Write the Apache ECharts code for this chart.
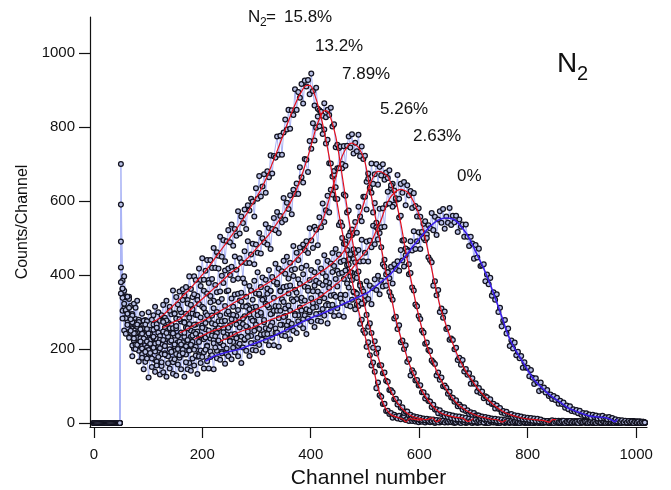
<!DOCTYPE html>
<html>
<head>
<meta charset="utf-8">
<script src="https://cdn.jsdelivr.net/npm/echarts@6/dist/echarts.min.js"></script>
<style>html,body{margin:0;padding:0;background:#fff}#c{width:671px;height:490px}</style>
</head>
<body>
<div id="c"></div>
<script>
// ---- channel layout: channels 0..48 below threshold, then every 3rd channel from 50 ----
const preChannels = [0,2,4,6,8,10,12,14,16,18,20,22,24,26,28,30,32,34,36,38,40,42,44,46,48];
const preCounts   = [0,0,0,0,0,0,0,0,0,0,0,0,0,0,0,0,0,0,0,0,0,0,0,0,0];
const firstChannel = 50, channelStep = 3;

const xTicks = [0,200,400,600,800,1000];
const yTicks = [0,200,400,600,800,1000];
const labels = ['15.8%','13.2%','7.89%','5.26%','2.63%','0%'];

// ---- counts per channel, one row = 20 samples = 60 channels ----
const counts158 = [
700,361,396,342,300,341,316,260,322,281,330,262,275,295,232,278,250,299,241,279,
266,314,257,299,240,291,319,284,330,271,314,294,358,296,340,320,355,299,361,344,
367,332,396,362,340,396,386,343,417,386,445,387,411,440,386,440,419,473,419,461,
452,503,449,494,437,491,521,488,536,479,524,506,572,512,558,540,577,524,588,574,
606,598,558,634,606,667,612,639,672,622,680,664,723,674,721,717,774,725,776,725,
785,820,793,846,795,845,832,902,846,894,879,916,863,925,909,927,888,944,897,858,
906,849,845,841,781,793,755,765,702,701,666,671,606,605,535,542,532,484,490,426,
428,396,406,353,353,320,316,268,279,250,243,206,218,183,155,163,138,94,109,75,
71,51,52,32,33,24,27,14,22,17,12,19,10,15,18,8,11,5,11,5,
9,4,7,2,6,3,8,1,5,4,2,7,3,0,5,6,1,4,3,2,
5,1,4,6,2,0,3,5,1,4,2,6,0,3,4,1,5,2,3,0,
4,2,6,1,3,0,5,2,4,1,3,6,0,2,5,3,1,4,2,0,
3,5,1,2,4,0,6,2,3,1,5,0,2,4,1,3,5,0,2,3,
1,4,2,0,5,3,1,2,4,0,3,6,1,2,0,4,2,3,1,5,
0,2,4,1,3,5,0,2,1,4,3,0,2,5,1,3,0,4,2,1,
3,0,5,2,1,4,0,3,2,1,4,2,0,3,1,5,2,0,3,1,
2,0,1];
const counts132 = [
590,384,309,340,297,335,265,294,272,311,245,279,211,255,276,235,275,212,252,229,
291,226,267,244,276,217,276,257,277,240,303,266,242,295,282,236,307,274,332,273,
295,323,267,319,296,348,292,332,321,370,314,357,298,350,378,343,389,330,373,353,
417,355,398,378,412,356,417,400,422,386,450,414,390,445,434,390,464,432,491,432,
455,484,429,482,460,513,458,499,488,537,482,527,470,524,554,521,570,513,559,542,
608,549,595,578,615,564,630,619,647,619,691,664,650,713,711,678,762,741,810,763,
798,828,802,841,830,864,826,846,832,852,801,807,745,752,743,689,688,617,614,569,
574,515,508,469,459,404,409,376,363,322,330,292,260,269,243,203,221,188,201,156,
156,134,136,114,111,89,88,83,64,65,50,56,41,42,27,31,31,20,22,14,
18,12,16,10,14,8,12,7,11,6,10,5,9,3,8,2,7,4,6,1,
5,3,7,2,4,6,1,5,3,0,4,2,6,1,3,5,0,2,4,3,
1,5,2,4,0,3,6,1,2,4,5,0,3,1,2,6,0,4,3,2,
5,1,3,0,4,2,1,6,3,0,2,4,1,5,0,3,2,1,4,0,
2,3,5,1,0,4,2,3,1,5,0,2,4,1,3,0,5,2,1,3,
4,0,2,1,5,3,0,2,4,1,0,3,2,5,1,0,4,2,3,1,
0,2,4,1,3,0,5,2,1,3,4,0,2,1,3,5,0,2,1,4,
1,3,0];
const counts789 = [
490,303,357,303,341,267,275,290,222,263,230,273,209,241,223,266,204,242,179,227,
252,214,257,195,235,212,273,208,248,225,256,197,256,236,256,218,280,243,218,271,
258,212,284,250,307,246,266,292,235,285,260,310,253,291,279,326,269,310,250,300,
327,290,335,274,316,295,358,294,336,314,347,289,349,331,352,315,378,341,317,370,
358,312,384,350,407,346,367,393,336,387,363,413,356,394,382,430,374,417,358,410,
438,403,449,390,433,413,478,416,460,440,474,419,482,467,491,459,526,493,473,530,
522,480,556,529,593,543,575,614,569,630,617,681,637,688,688,747,700,748,695,749,
774,744,780,728,757,734,779,721,747,713,722,652,674,633,622,569,594,541,496,513,
475,429,441,401,408,354,342,333,282,287,254,264,218,223,200,210,165,172,128,142,
135,115,116,101,102,83,83,66,72,59,58,43,49,36,37,26,34,24,27,18,
24,16,22,13,20,11,18,10,17,9,15,8,14,6,12,5,11,4,9,3,
6,2,5,1,7,3,0,4,6,2,3,5,1,0,4,2,6,3,1,5,
2,4,0,3,1,5,2,6,0,3,4,1,2,5,0,3,1,4,2,0,
3,1,5,2,0,4,3,1,2,6,0,3,4,1,5,2,0,3,1,4,
2,5,0,1,3,4,2,0,5,1,3,2,0,4,1,3,5,0,2,1,
4,0,2,3,1,5,0,2,4,1,3,0,2,5,1,0,3,4,2,1,
0,2,1];
const counts526 = [
420,363,283,305,276,311,241,272,201,242,260,216,253,186,222,196,254,187,225,200,
230,170,227,206,225,186,247,208,182,233,219,172,242,207,262,200,219,244,185,233,
207,256,197,233,219,265,206,247,187,237,263,226,270,209,250,228,290,225,266,243,
275,216,275,256,276,239,301,264,239,292,279,233,305,271,328,267,288,314,257,307,
283,333,276,314,302,349,292,333,272,322,349,312,357,296,338,316,379,315,356,334,
367,309,369,350,371,334,397,360,335,388,376,330,402,368,425,365,386,413,356,407,
384,435,378,417,405,453,396,438,379,431,459,424,470,411,455,435,500,439,483,467,
506,456,523,513,543,514,584,558,545,611,611,577,660,636,701,646,672,700,644,692,
669,699,657,677,662,683,634,646,590,605,604,555,560,493,494,453,468,402,405,366,
358,320,315,289,281,250,244,214,217,197,194,169,164,159,128,136,117,123,99,101,
95,79,84,69,68,57,61,45,50,44,36,42,32,34,24,29,22,27,20,21,
20,13,17,11,16,10,14,8,12,7,11,5,10,4,9,3,8,4,6,2,
5,1,4,6,2,0,3,5,2,4,1,3,6,0,2,4,1,5,3,0,
2,5,1,3,0,4,2,6,1,3,5,0,2,4,1,3,0,5,2,1,
3,0,4,2,1,5,3,0,2,4,1,0,3,5,2,1,4,0,3,2,
1,4,0,2,5,1,3,0,2,4,1,3,0,2,5,0,1,3,2,4,
0,3,1];
const counts263 = [
380,338,250,283,295,246,280,209,242,212,266,195,229,201,228,165,220,197,214,174,
233,193,166,217,202,154,224,188,243,180,199,223,164,212,186,235,176,212,198,244,
185,224,162,211,236,198,241,179,219,196,257,191,231,207,238,178,236,215,234,195,
256,218,192,245,232,186,257,223,280,219,240,266,208,258,233,282,224,261,247,293,
235,276,215,265,291,254,298,237,278,256,318,253,294,271,303,244,303,283,303,265,
327,289,264,317,304,258,329,295,352,291,312,338,281,331,307,357,299,337,324,371,
313,355,295,346,373,337,382,322,365,344,408,346,389,369,403,346,406,389,412,377,
442,408,386,443,434,392,467,436,495,437,460,490,436,493,475,533,483,529,524,579,
529,580,530,590,625,593,642,584,628,607,670,606,646,622,651,588,642,615,627,581,
621,586,558,580,557,509,538,494,510,448,440,434,371,383,345,359,300,309,284,301,
254,257,225,228,224,199,203,170,176,157,170,139,146,130,134,106,121,106,107,85,
94,81,85,67,72,69,56,64,51,52,39,47,38,40,28,32,25,30,22,23,
24,16,21,14,19,12,17,10,15,9,14,8,13,6,12,5,11,4,9,3,
6,2,5,1,4,7,0,3,5,2,1,4,6,0,3,2,5,1,4,2,
3,0,5,2,1,4,3,0,2,5,1,3,0,4,2,1,5,3,0,2,
4,1,3,0,2,5,1,0,3,4,2,1,5,0,3,2,1,4,0,2,
3,1,0];
const counts0 = [
350,282,322,241,265,230,249,180,228,200,211,166,220,176,145,192,174,123,189,151,
203,138,155,178,131,164,137,185,125,161,147,192,133,172,128,158,183,145,188,125,
164,145,196,141,174,155,182,132,180,162,178,147,198,167,147,193,183,145,204,175,
223,171,188,209,160,201,180,221,172,203,191,229,180,214,162,204,226,195,232,181,
216,197,249,196,230,211,239,191,240,223,240,210,262,230,210,255,244,206,265,237,
286,235,252,274,226,268,249,291,243,275,265,304,256,291,240,282,304,274,311,259,
294,276,328,274,308,290,318,269,318,302,319,289,341,310,291,336,325,287,346,318,
366,315,333,355,307,349,329,371,323,355,344,383,335,371,321,364,388,359,398,348,
385,369,423,371,407,391,422,377,429,416,437,411,467,439,423,471,464,429,491,466,
518,470,491,515,470,516,500,545,500,534,526,567,521,557,508,550,572,541,578,525,
558,541,581,535,560,542,560,516,550,530,536,503,536,503,478,503,485,444,481,447,
471,424,426,429,383,401,375,392,344,353,333,348,300,311,261,276,278,242,255,208,
223,201,217,183,192,175,181,149,164,149,149,126,143,122,105,121,109,86,109,90,
96,82,89,73,77,65,73,62,68,52,60,51,55,41,47,37,45,32,37,30,
35,26,33,22,27,20,26,19,23,14,22,16,20,12,18,12,19,12,15,10,
16,9,13,6,10,4,8,3,7,2,6,1,5,2,4,0,3,1,4,0,
2,0,1];

// ---- fitted curves [channel, counts] ----
const fit158 = [[108,273],[116,278],[128,292],[140,308],[152,325],[164,343],[176,360],[188,380],[200,400],[212,422],[224,446],[236,470],[248,494],[260,518],[272,543],[284,570],[296,600],[308,630],[320,668],[332,712],[344,758],[356,805],[368,850],[380,888],[392,912],[398,912],[404,900],[416,845],[428,765],[440,670],[452,565],[464,470],[476,385],[488,305],[500,235],[512,170],[524,95],[536,45],[548,22],[560,15],[570,10],[576,3],[582,12],[594,9],[606,8]];
const fit132 = [[127,257],[134,262],[146,272],[158,280],[170,295],[182,311],[194,327],[206,343],[218,359],[230,375],[242,391],[254,407],[266,420],[278,437],[290,455],[302,475],[314,494],[326,515],[338,540],[350,566],[362,594],[374,632],[386,680],[398,735],[410,798],[422,840],[428,844],[434,836],[446,775],[458,668],[470,553],[482,448],[494,355],[506,275],[518,207],[530,152],[542,106],[554,68],[566,43],[578,26],[590,16],[602,12],[614,9],[624,14],[632,3],[640,10]];
const fit789 = [[159,244],[170,252],[182,262],[194,271],[206,280],[218,290],[230,300],[242,310],[254,321],[266,331],[278,342],[290,352],[302,362],[314,372],[326,383],[338,395],[350,411],[362,427],[374,445],[386,464],[398,490],[410,516],[422,548],[434,605],[446,664],[458,721],[470,752],[476,756],[488,745],[500,705],[512,610],[524,520],[536,427],[548,342],[560,262],[572,203],[584,151],[596,112],[608,80],[620,54],[632,35],[644,24],[656,19],[668,15],[680,13],[690,4],[700,12]];
const fit526 = [[186,226],[194,232],[206,240],[218,248],[230,254],[242,261],[254,269],[266,278],[278,288],[290,298],[302,308],[314,317],[326,327],[338,337],[350,346],[362,356],[374,365],[386,375],[398,386],[410,399],[422,411],[434,424],[446,440],[458,458],[470,485],[482,528],[494,575],[506,633],[518,672],[524,680],[530,679],[542,666],[554,620],[566,540],[578,440],[590,350],[602,272],[614,210],[626,162],[638,122],[650,91],[662,66],[674,47],[686,34],[698,25],[710,18],[722,14],[734,10],[746,8],[752,2],[760,8]];
const fit263 = [[233,221],[242,226],[254,235],[266,244],[278,251],[290,256],[302,264],[314,272],[326,279],[338,285],[350,291],[362,298],[374,307],[386,317],[398,326],[410,334],[422,346],[434,359],[446,374],[458,388],[470,406],[482,428],[494,450],[506,472],[518,510],[530,550],[542,598],[554,622],[566,631],[578,624],[590,597],[602,553],[614,480],[626,395],[638,318],[650,262],[662,214],[674,172],[686,140],[698,114],[710,89],[722,70],[734,53],[746,39],[758,28],[770,21],[782,16],[794,12],[806,10],[818,8],[830,6],[840,2],[846,9],[852,9]];
const fit0 = [[206,167],[222,181],[240,189],[254,194],[269,199],[290,211],[310,222],[332,235],[350,248],[370,262],[395,280],[420,295],[440,307],[458,320],[480,335],[505,352],[525,376],[544,397],[560,425],[575,451],[590,480],[605,506],[620,531],[635,548],[650,554],[665,549],[680,526],[693,497],[705,460],[717,424],[730,378],[741,334],[752,288],[764,237],[776,201],[788,172],[800,143],[811,118],[824,98],[843,73],[860,56],[874,41],[890,31],[913,19],[930,16],[945,14],[955,8],[961,3],[965,10]];

// ---- build series ----
function spectrum(counts) {
  const pts = preChannels.map((c, i) => [c, preCounts[i]]);
  counts.forEach((v, i) => pts.push([firstChannel + channelStep * i, v]));
  return pts;
}
const spectra = [counts158, counts132, counts789, counts526, counts263, counts0];
const fits = [fit158, fit132, fit789, fit526, fit263, fit0];

const series = [];
spectra.forEach((c, k) => {
  series.push({
    name: labels[k], type: 'line', data: spectrum(c),
    symbol: 'circle', symbolSize: 4.8, showAllSymbol: true,
    lineStyle: { color: '#aab4f6', width: 1 },
    itemStyle: { color: '#b9c1e6', borderColor: '#12121f', borderWidth: 1.25 },
    z: 2, silent: true, animation: false
  });
});
fits.forEach((f, k) => {
  const blue = k === fits.length - 1;
  series.push({
    name: 'fit ' + labels[k], type: 'line', data: f, smooth: 0.25,
    showSymbol: false, symbol: 'none',
    lineStyle: { color: blue ? '#3a1ee6' : '#e2101c', width: blue ? 1.6 : 1.2 },
    z: 5, silent: true, animation: false
  });
});

const chart = echarts.init(document.getElementById('c'), null, { renderer: 'canvas' });
const FONT = '"Liberation Sans", Arial, Helvetica, sans-serif';
const ann = (text, left, top, size) => ({ type: 'text', left, top, style: { text, font: size + 'px ' + FONT, fill: '#111' }, z: 100 });
const plain = v => String(v);

chart.setOption({
  animation: false,
  backgroundColor: '#ffffff',
  grid: { left: 90, right: 24, top: 17, bottom: 63, containLabel: false, outerBoundsMode: 'none' },
  xAxis: {
    type: 'value', min: -7, max: 1020,
    name: 'Channel number', nameLocation: 'middle', nameGap: 41,
    nameTextStyle: { fontFamily: FONT, fontSize: 21, color: '#111' },
    axisLine: { show: true, onZero: false, lineStyle: { color: '#111', width: 1.2 } },
    axisTick: { show: true, inside: false, length: 11, customValues: xTicks, lineStyle: { color: '#111', width: 1.2 } },
    axisLabel: { customValues: xTicks, formatter: plain, margin: 20, fontFamily: FONT, fontSize: 15, color: '#111' },
    splitLine: { show: false }
  },
  yAxis: {
    type: 'value', min: -11, max: 1097,
    name: 'Counts/Channel', nameLocation: 'middle', nameGap: 57, nameRotate: 90,
    nameTextStyle: { fontFamily: FONT, fontSize: 16, color: '#111' },
    axisLine: { show: true, onZero: false, lineStyle: { color: '#111', width: 1.2 } },
    axisTick: { show: true, inside: false, length: 11, customValues: yTicks, lineStyle: { color: '#111', width: 1.2 } },
    axisLabel: { customValues: yTicks, formatter: plain, margin: 15, fontFamily: FONT, fontSize: 15, color: '#111' },
    splitLine: { show: false }
  },
  graphic: [
    ann('N', 248, 9, 17),
    ann('2', 260, 17, 12),
    ann('=', 266, 9, 17),
    ann(labels[0], 284, 9, 17),
    ann(labels[1], 315, 38, 17),
    ann(labels[2], 342, 66, 17),
    ann(labels[3], 380, 101, 17),
    ann(labels[4], 413, 128, 17),
    ann(labels[5], 457, 168, 17),
    ann('N', 557, 50, 28),
    ann('2', 577, 64, 20)
  ],
  series
});
</script>
</body>
</html>
